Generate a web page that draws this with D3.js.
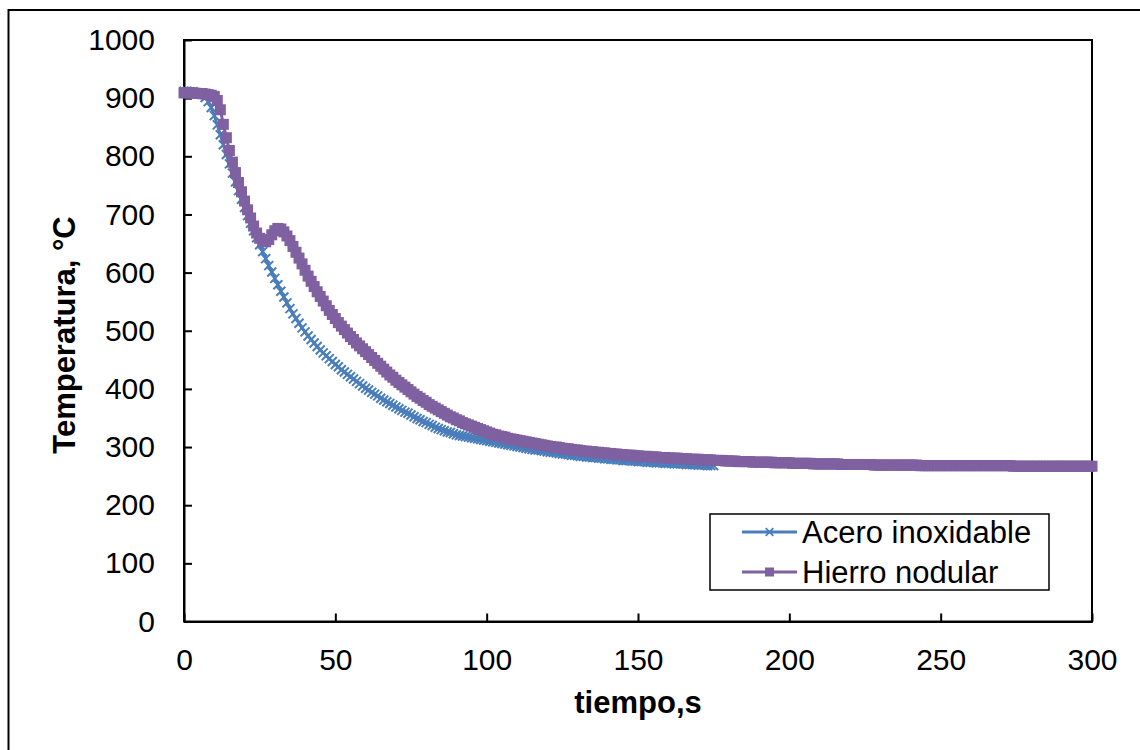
<!DOCTYPE html>
<html>
<head>
<meta charset="utf-8">
<script src="https://cdn.jsdelivr.net/npm/d3@7"></script>
<style>
  html, body { margin: 0; padding: 0; background: #fff; }
  svg { display: block; font-family: "Liberation Sans", Arial, sans-serif; }
</style>
</head>
<body>
<svg id="chart" width="1140" height="750"></svg>
<script>
// ---- data (temperature readings, one per second) ----
const intervaloSegundos = 1;

const aceroInoxidable = [
  912,912,911,911,910,909,906,901,894,884,
  870,854,837,820,803,787,771,756,741,726,
  712,698,685,672,660,648,636,624,612,601,
  590,579,568,558,548,538,529,521,513,505,
  498,491,485,479,473,467,462,457,452,447,
  442,438,433,429,425,421,417,413,409,405,
  401,398,394,391,388,384,381,378,375,372,
  369,366,363,360,358,355,352,349,347,344,
  342,339,337,334,332,330,328,326,325,323,
  321,320,319,318,317,316,315,314,313,312,
  311,310,309,308,307,306,305,304,303,302,
  301,300,299,298,297,296,295,295,294,293,
  292,291,291,290,289,288,288,287,286,286,
  285,284,284,283,283,282,282,281,281,280,
  280,279,279,278,278,277,277,277,276,276,
  275,275,275,274,274,274,273,273,273,272,
  272,272,271,271,271,271,270,270,270,270,
  269,269,269,268,268,268
];

const hierroNodular = [
  909,909,909,909,908,908,908,907,906,905,
  903,896,880,855,832,810,790,772,755,739,
  723,708,694,680,668,659,654,653,657,665,
  672,676,675,670,663,655,645,635,625,615,
  604,594,585,576,567,559,551,543,535,528,
  521,514,508,502,496,490,485,479,474,469,
  464,459,454,449,444,439,434,429,424,420,
  415,411,407,403,399,395,391,387,384,380,
  377,373,370,367,364,361,358,355,352,350,
  347,345,342,340,338,336,334,332,330,328,
  326,324,322,321,319,318,317,315,314,313,
  312,311,310,309,308,307,306,305,304,303,
  302,301,300,300,299,298,297,297,296,295,
  295,294,293,293,292,292,291,291,290,290,
  289,289,288,288,287,287,286,286,286,285,
  285,284,284,284,283,283,283,282,282,282,
  281,281,281,281,280,280,280,279,279,279,
  279,278,278,278,278,277,277,277,277,276,
  276,276,276,275,275,275,275,275,274,274,
  274,274,274,274,274,273,273,273,273,273,
  273,272,272,272,272,272,272,272,271,271,
  271,271,271,271,271,271,271,270,270,270,
  270,270,270,270,270,270,270,270,269,269,
  269,269,269,269,269,269,269,269,269,269,
  269,269,269,268,268,268,268,268,268,268,
  268,268,268,268,268,268,268,268,268,268,
  268,268,268,268,268,268,268,268,268,268,
  268,268,268,268,267,267,267,267,267,267,
  267,267,267,267,267,267,267,267,267,267,
  267,267,267,267,267,267,267,267,267,267,
  267
];

const seriesNames = ["Acero inoxidable", "Hierro nodular"];
const xTicks = [0, 50, 100, 150, 200, 250, 300];
const yTicks = [0, 100, 200, 300, 400, 500, 600, 700, 800, 900, 1000];
const xTitle = "tiempo,s";
const yTitle = "Temperatura, °C";

// ---- layout ----
const svg = d3.select("#chart");
const plot = { left: 184, right: 1092, top: 40, bottom: 621.5 };
const colors = { acero: "#4a7ebb", hierro: "#7f60a1" };
const sq = 11;

const x = d3.scaleLinear().domain([0, 300]).range([plot.left, plot.right]);
const y = d3.scaleLinear().domain([0, 1000]).range([plot.bottom, plot.top]);

// outer chart border
svg.append("rect").attr("x", 8.5).attr("y", 10).attr("width", 1300).attr("height", 900)
  .attr("fill", "none").attr("stroke", "#000").attr("stroke-width", 2);

// plot area frame
svg.append("rect").attr("x", plot.left).attr("y", plot.top)
  .attr("width", plot.right - plot.left).attr("height", plot.bottom - plot.top)
  .attr("fill", "none").attr("stroke", "#000").attr("stroke-width", 2);

// axes
const yAxis = d3.axisLeft(y).tickValues(yTicks).tickFormat(d3.format("d"))
  .tickSizeInner(-8).tickSizeOuter(0).tickPadding(29);
const xAxis = d3.axisBottom(x).tickValues(xTicks).tickFormat(d3.format("d"))
  .tickSizeInner(-8).tickSizeOuter(0).tickPadding(27);

const gy = svg.append("g").attr("transform", `translate(${plot.left},0)`).call(yAxis);
const gx = svg.append("g").attr("transform", `translate(0,${plot.bottom})`).call(xAxis);
[gx, gy].forEach(g => {
  g.select(".domain").attr("stroke", "#000").attr("stroke-width", 2);
  g.selectAll(".tick line").attr("stroke", "#000").attr("stroke-width", 2);
  g.selectAll(".tick text").attr("fill", "#000")
    .style("font-family", "'Liberation Sans', Arial, sans-serif").style("font-size", "30px");
});

// series
function toPoints(values) {
  return values.map((v, i) => ({ t: i * intervaloSegundos, v }));
}
const acero = toPoints(aceroInoxidable);
const hierro = toPoints(hierroNodular);

const line = d3.line().x(d => x(d.t)).y(d => y(d.v));
const xMark = s => `M${-s},${-s}L${s},${s}M${-s},${s}L${s},${-s}`;

// Acero inoxidable
svg.append("path").datum(acero).attr("d", line)
  .attr("fill", "none").attr("stroke", colors.acero).attr("stroke-width", 3);
svg.append("g").selectAll("path").data(acero).join("path")
  .attr("transform", d => `translate(${x(d.t)},${y(d.v)})`)
  .attr("d", xMark(4.5)).attr("stroke", colors.acero).attr("stroke-width", 2).attr("fill", "none");

// Hierro nodular
svg.append("path").datum(hierro).attr("d", line)
  .attr("fill", "none").attr("stroke", colors.hierro).attr("stroke-width", 3);
svg.append("g").selectAll("rect").data(hierro).join("rect")
  .attr("x", d => x(d.t) - sq / 2).attr("y", d => y(d.v) - sq / 2)
  .attr("width", sq).attr("height", sq).attr("fill", colors.hierro);

// axis titles
svg.append("text").attr("x", 638).attr("y", 713).attr("text-anchor", "middle")
  .style("font-size", "31px").style("font-weight", "bold").text(xTitle);
svg.append("text").attr("transform", "translate(75,335) rotate(-90)").attr("text-anchor", "middle")
  .style("font-size", "31px").style("font-weight", "bold").text(yTitle);

// legend
const lg = svg.append("g");
lg.append("rect").attr("x", 710).attr("y", 514).attr("width", 339).attr("height", 76)
  .attr("fill", "#fff").attr("stroke", "#000").attr("stroke-width", 1.5);
const rows = [
  { name: seriesNames[0], color: colors.acero, type: "x", cy: 532 },
  { name: seriesNames[1], color: colors.hierro, type: "sq", cy: 572 }
];
rows.forEach(r => {
  lg.append("line").attr("x1", 742).attr("x2", 797).attr("y1", r.cy).attr("y2", r.cy)
    .attr("stroke", r.color).attr("stroke-width", 3);
  if (r.type === "x") {
    lg.append("path").attr("transform", `translate(769.5,${r.cy})`).attr("d", xMark(3.8))
      .attr("stroke", r.color).attr("stroke-width", 1.8).attr("fill", "none");
  } else {
    lg.append("rect").attr("x", 769.5 - 4.5).attr("y", r.cy - 4.5).attr("width", 9).attr("height", 9)
      .attr("fill", r.color);
  }
  lg.append("text").attr("x", 802).attr("y", r.cy).attr("dy", "0.35em")
    .style("font-size", "31px").text(r.name);
});
</script>
</body>
</html>
